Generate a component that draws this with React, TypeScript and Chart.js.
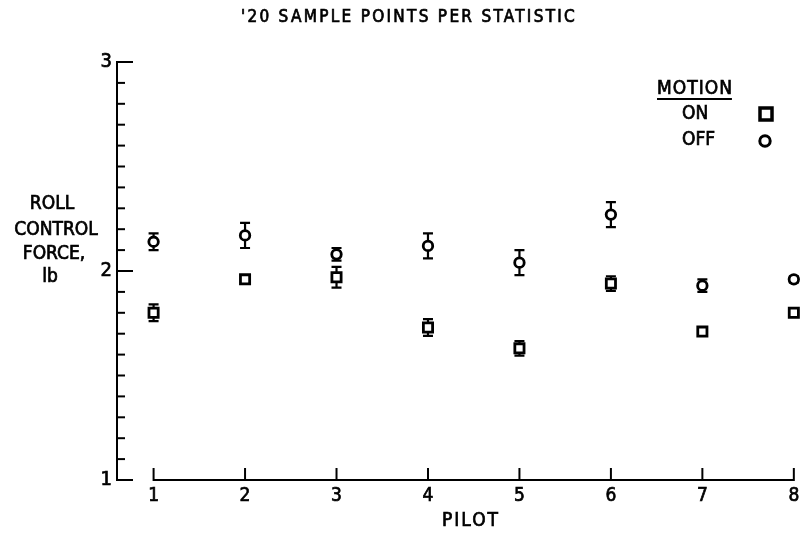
import React, { useEffect, useRef } from "react";
import { Chart, registerables } from "chart.js";

Chart.register(...registerables);

// ---- data ----
const pilots = [1, 2, 3, 4, 5, 6, 7, 8];
const xTickLabels = ["1", "2", "3", "4", "5", "6", "7", "8"];
const onValues = [1.80, 1.96, 1.97, 1.73, 1.63, 1.94, 1.71, 1.80];
const onErrors = [0.04, 0.02, 0.05, 0.04, 0.035, 0.035, 0.015, 0.015];
const offValues = [2.14, 2.17, 2.08, 2.12, 2.04, 2.27, 1.93, 1.96];
const offErrors = [0.04, 0.06, 0.03, 0.06, 0.06, 0.06, 0.03, 0.015];
const yMajorTicks = [1, 2, 3];
const yMinorStep = 0.1;
const titleText = "'20 SAMPLE POINTS PER STATISTIC";
const yTitleLines = ["ROLL", "CONTROL", "FORCE,", "lb"];
const xTitle = "PILOT";
const legendTitle = "MOTION";
const legendLabels = ["ON", "OFF"];

const FONT = '"DejaVu Sans Condensed", "DejaVu Sans", sans-serif';

function txt(
  ctx: CanvasRenderingContext2D,
  s: string,
  x: number,
  y: number,
  size: number,
  align: CanvasTextAlign = "center",
  spacing = 0
) {
  ctx.font = size + "px " + FONT;
  ctx.textAlign = align;
  ctx.textBaseline = "middle";
  (ctx as any).letterSpacing = spacing + "px";
  ctx.lineWidth = 0.7;
  ctx.fillText(s, x, y);
  ctx.strokeText(s, x, y);
  (ctx as any).letterSpacing = "0px";
}

const paperPlugin = {
  id: "paper",
  beforeDatasetsDraw(chart: any) {
    const ctx = chart.ctx;
    const xs = chart.scales.x;
    const ys = chart.scales.y;
    ctx.save();
    ctx.strokeStyle = "#000";
    ctx.lineWidth = 2.2;
    const series: [number[], number[]][] = [
      [onValues, onErrors],
      [offValues, offErrors],
    ];
    for (const [vals, errs] of series) {
      vals.forEach((v, i) => {
        const px = xs.getPixelForValue(pilots[i]);
        const t = ys.getPixelForValue(v + errs[i]);
        const b = ys.getPixelForValue(v - errs[i]);
        ctx.beginPath();
        ctx.moveTo(px, t);
        ctx.lineTo(px, b);
        ctx.moveTo(px - 5, t);
        ctx.lineTo(px + 5, t);
        ctx.moveTo(px - 5, b);
        ctx.lineTo(px + 5, b);
        ctx.stroke();
      });
    }
    ctx.restore();
  },
  afterDraw(chart: any) {
    const ctx = chart.ctx;
    const xs = chart.scales.x;
    const ys = chart.scales.y;
    const axisX = chart.chartArea.left;
    ctx.save();
    ctx.strokeStyle = "#000";
    ctx.fillStyle = "#000";
    ctx.lineWidth = 2;
    ctx.lineCap = "butt";

    // y axis
    const yTop = ys.getPixelForValue(yMajorTicks[yMajorTicks.length - 1]);
    const yBot = ys.getPixelForValue(yMajorTicks[0]);
    ctx.beginPath();
    ctx.moveTo(axisX, yTop - 1);
    ctx.lineTo(axisX, yBot + 1);
    ctx.stroke();
    const n = Math.round((yMajorTicks[yMajorTicks.length - 1] - yMajorTicks[0]) / yMinorStep);
    for (let k = 0; k <= n; k++) {
      const v = yMajorTicks[0] + k * yMinorStep;
      const py = ys.getPixelForValue(v);
      const major = k % 10 === 0;
      ctx.lineWidth = 2;
      ctx.beginPath();
      ctx.moveTo(axisX, py);
      ctx.lineTo(axisX + (major ? 16 : 8), py);
      ctx.stroke();
    }
    yMajorTicks.forEach((v) => {
      txt(ctx, String(v), axisX - 5, ys.getPixelForValue(v), 20, "right");
    });

    // x axis
    const x0 = xs.getPixelForValue(pilots[0]);
    const x1 = xs.getPixelForValue(pilots[pilots.length - 1]);
    const xb = yBot;
    ctx.lineWidth = 2;
    ctx.beginPath();
    ctx.moveTo(x0, xb);
    ctx.lineTo(x1, xb);
    ctx.stroke();
    pilots.forEach((p) => {
      const px = xs.getPixelForValue(p);
      ctx.lineWidth = 2;
      ctx.beginPath();
      ctx.moveTo(px, xb + 1);
      ctx.lineTo(px, xb - 12);
      ctx.stroke();
    });
    pilots.forEach((p, i) => {
      txt(ctx, xTickLabels[i], xs.getPixelForValue(p), xb + 16, 19);
    });
    txt(ctx, xTitle, 471, 521, 19, "center", 2);

    // y title
    const yc = [204, 230, 254, 277];
    const xc = [52, 56, 54, 50];
    yTitleLines.forEach((t, i) => txt(ctx, t, xc[i], yc[i], 19));

    // title
    txt(ctx, titleText, 409, 18, 17, "center", 2.3);

    // legend
    txt(ctx, legendTitle, 657, 89, 19, "left", 1);
    ctx.font = "19px " + FONT;
    (ctx as any).letterSpacing = "1px";
    const w = ctx.measureText(legendTitle).width;
    (ctx as any).letterSpacing = "0px";
    ctx.lineWidth = 2;
    ctx.beginPath();
    ctx.moveTo(657, 99);
    ctx.lineTo(657 + w - 1, 99);
    ctx.stroke();
    txt(ctx, legendLabels[0], 682, 114, 19, "left");
    txt(ctx, legendLabels[1], 682, 140, 19, "left");
    ctx.lineWidth = 3.5;
    ctx.strokeRect(760, 108, 12, 12);
    ctx.lineWidth = 3;
    ctx.beginPath();
    ctx.arc(765, 141, 5.2, 0, Math.PI * 2);
    ctx.stroke();
    ctx.restore();
  },
};

export default function App() {
  const ref = useRef<HTMLCanvasElement>(null);
  useEffect(() => {
    if (!ref.current) return;
    const chart = new Chart(ref.current, {
      type: "scatter",
      data: {
        datasets: [
          {
            label: legendLabels[0],
            data: pilots.map((p, i) => ({ x: p, y: onValues[i] })),
            pointStyle: "rect",
            pointRadius: 6.5,
            borderWidth: 2.8,
            borderColor: "#000",
            backgroundColor: "#fff",
          },
          {
            label: legendLabels[1],
            data: pilots.map((p, i) => ({ x: p, y: offValues[i] })),
            pointStyle: "circle",
            pointRadius: 4.75,
            borderWidth: 2.8,
            borderColor: "#000",
            backgroundColor: "#fff",
          },
        ],
      },
      options: {
        responsive: false,
        animation: false,
        layout: { padding: { left: 117, right: 1, top: 62, bottom: 56 } },
        plugins: { legend: { display: false }, tooltip: { enabled: false } },
        scales: {
          x: { type: "linear", min: 0.6, max: 8.086, display: false },
          y: { type: "linear", min: 1, max: 3, display: false },
        },
      },
      plugins: [paperPlugin],
    });
    return () => chart.destroy();
  }, []);
  return (
    <div style={{ position: "fixed", left: 0, top: 0, width: 811, height: 536, background: "#fff" }}>
      <canvas ref={ref} width={811} height={536} />
    </div>
  );
}
